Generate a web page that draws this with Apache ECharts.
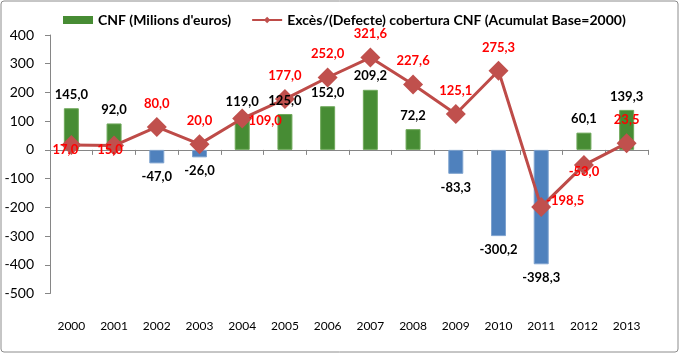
<!DOCTYPE html>
<html>
<head>
<meta charset="utf-8">
<script src="https://cdn.jsdelivr.net/npm/echarts@6/dist/echarts.min.js"></script>
<style>
html,body{margin:0;padding:0;background:#fff;}
#chart{width:680px;height:357px;}
</style>
</head>
<body>
<div id="chart"></div>
<script>
var years = ['2000','2001','2002','2003','2004','2005','2006','2007','2008','2009','2010','2011','2012','2013'];
var cnfValues = [145.0, 92.0, -47.0, -26.0, 119.0, 125.0, 152.0, 209.2, 72.2, -83.3, -300.2, -398.3, 60.1, 139.3];
var coverageValues = [17.0, 15.0, 80.0, 20.0, 109.0, 177.0, 252.0, 321.6, 227.6, 125.1, 275.3, -198.5, -53.0, 23.5];
var seriesNames = ["CNF (Milions d'euros)", "Excès/(Defecte) cobertura CNF (Acumulat Base=2000)"];

var FONT = 'Lato, "Noto Sans", sans-serif';
function fmt(v){ return v.toFixed(1).replace('.', ','); }

// label placement tweaks for the line (styling only)
var lineLabelTweaks = {
  0: {position:'inside', offset:[-6,5]},
  1: {position:'inside', offset:[-4,4]},
  4: {position:'inside', offset:[23,2]},
  11:{position:'inside', offset:[24,-6]},
  12:{position:'inside', offset:[0,7]}
};

var barData = cnfValues.map(function(v){
  var pos = v >= 0;
  return {
    value: v,
    itemStyle: pos ? {color:'#478C34', borderColor:'#6FA85A', borderWidth:1}
                   : {color:'#4F81BD', borderColor:'#7EA2CF', borderWidth:1}
  };
});
var barLabelData = cnfValues.map(function(v){
  return {value: v, label: {position: v >= 0 ? 'top' : 'bottom', distance: 7}};
});
var lineData = coverageValues.map(function(v, i){
  var o = {value: v};
  if (lineLabelTweaks[i]) o.label = lineLabelTweaks[i];
  return o;
});

var chart = echarts.init(document.getElementById('chart'), null, {renderer:'canvas'});
chart.setOption({
  animation: false,
  backgroundColor: '#fff',
  textStyle: {fontFamily: FONT},
  graphic: [{
    type: 'rect',
    shape: {x: 1, y: 1, width: 677, height: 351, r: 3},
    style: {fill: 'none', stroke: '#8C8C8C', lineWidth: 1},
    silent: true
  }],
  legend: {
    left: 58, top: 8,
    itemGap: 20,
    itemWidth: 30, itemHeight: 8,
    textStyle: {fontFamily: FONT, fontSize: 14, fontWeight: 'bold', color: '#000'},
    data: [
      {name: seriesNames[0], icon: 'rect', itemStyle:{color:'#478C34'}},
      {name: seriesNames[1]}
    ]
  },
  grid: {left: 50, right: 32, top: 35, bottom: 63.5},
  xAxis: [{
    type: 'category',
    data: years,
    position: 'bottom',
    axisLine: {show: false, onZero: false},
    axisTick: {show: false},
    axisLabel: {margin: 27, fontSize: 12, color: '#000', fontFamily: FONT},
    splitLine: {show: false}
  }, {
    type: 'category',
    data: years,
    position: 'bottom',
    axisLine: {show: true, onZero: true, lineStyle: {color: '#868686', width: 1}},
    axisTick: {show: true, length: 5, lineStyle: {color: '#868686'}},
    axisLabel: {show: false},
    splitLine: {show: false}
  }],
  yAxis: {
    type: 'value',
    min: -500, max: 400, interval: 100,
    axisLine: {show: true, lineStyle: {color: '#868686'}},
    axisTick: {show: true, length: 5, lineStyle: {color: '#868686'}},
    axisLabel: {margin: 16, fontSize: 14, color: '#000', fontFamily: FONT},
    splitLine: {show: false}
  },
  series: [{
    name: seriesNames[0],
    type: 'bar',
    xAxisIndex: 0,
    barWidth: 15,
    data: barData,
    z: 2
  }, {
    name: seriesNames[1],
    type: 'line',
    xAxisIndex: 0,
    data: lineData,
    symbol: 'diamond',
    symbolSize: 20,
    lineStyle: {color: '#BE4B48', width: 3},
    itemStyle: {color: '#C0504D'},
    label: {
      show: true, position: 'top', distance: 7,
      fontFamily: FONT, fontSize: 13, fontWeight: 'bold', color: '#FF0000',
      formatter: function(p){ return fmt(p.value); }
    },
    z: 5
  }, {
    name: 'cnf-labels',
    type: 'bar',
    xAxisIndex: 0,
    barWidth: 15,
    barGap: '-100%',
    data: barLabelData,
    itemStyle: {color: 'rgba(0,0,0,0)'},
    label: {
      show: true,
      fontFamily: FONT, fontSize: 13, fontWeight: 'bold', color: '#000',
      formatter: function(p){ return fmt(p.value); }
    },
    silent: true,
    z: 6
  }]
});
</script>
</body>
</html>
